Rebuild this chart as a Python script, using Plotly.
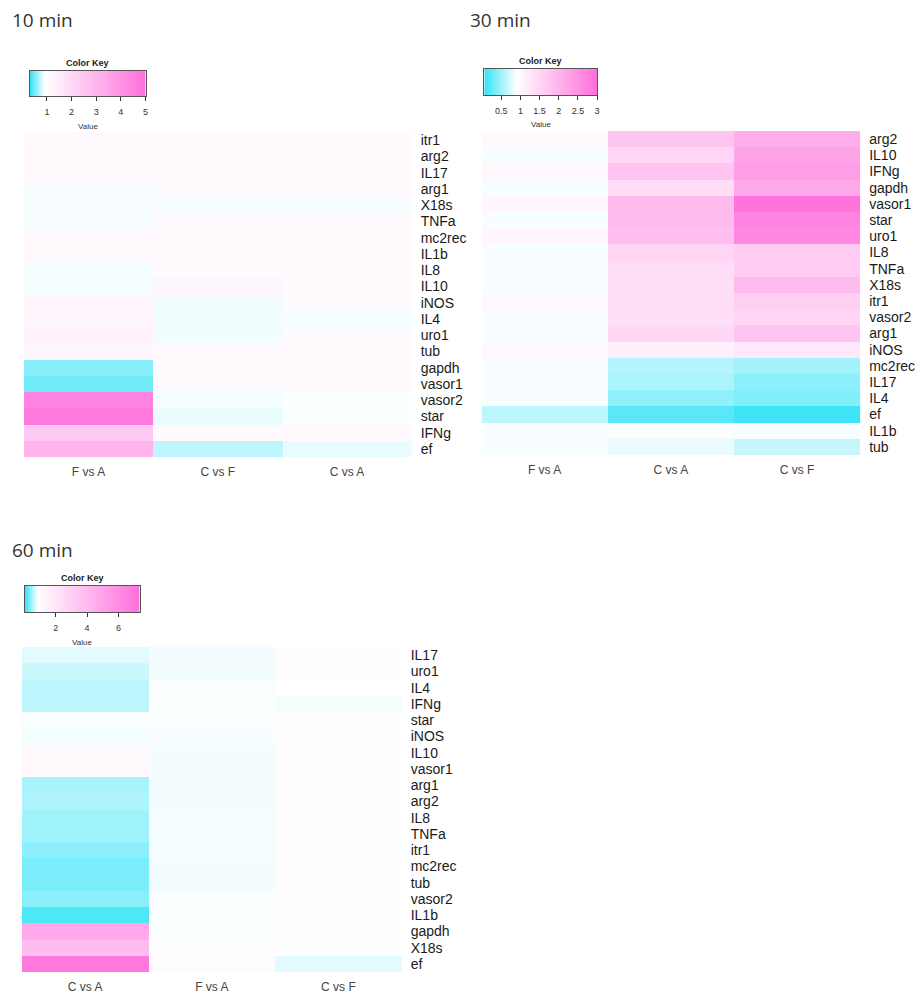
import numpy as np
import plotly.graph_objects as go

W, H = 921, 994

# ---------------- 10 min ----------------
genes_10 = ["itr1", "arg2", "IL17", "arg1", "X18s", "TNFa", "mc2rec", "IL1b", "IL8", "IL10",
            "iNOS", "IL4", "uro1", "tub", "gapdh", "vasor1", "vasor2", "star", "IFNg", "ef"]
cols_10 = ["F vs A", "C vs F", "C vs A"]
fva_10 = [1.10, 1.10, 1.10, 0.90, 0.90, 0.90, 1.10, 1.10, 0.89, 0.89,
          1.15, 1.15, 1.35, 1.20, 0.56, 0.50, 4.50, 4.75, 2.47, 3.05]
cvf_10 = [1.05, 1.05, 1.05, 1.05, 0.90, 1.05, 1.05, 1.05, 1.07, 1.20,
          0.88, 0.88, 0.88, 1.07, 1.07, 1.07, 0.89, 0.86, 1.05, 0.73]
cva_10 = [1.05, 1.05, 1.05, 1.05, 0.90, 1.05, 1.05, 1.05, 1.05, 1.13,
          1.05, 0.89, 1.05, 1.05, 1.05, 1.05, 0.91, 0.91, 1.05, 0.85]
key_10 = dict(zmin=0.31, zmax=5.0, white=0.92, ticks=[1, 2, 3, 4, 5])

# ---------------- 30 min ----------------
genes_30 = ["arg2", "IL10", "IFNg", "gapdh", "vasor1", "star", "uro1", "IL8", "TNFa", "X18s",
            "itr1", "vasor2", "arg1", "iNOS", "mc2rec", "IL17", "IL4", "ef", "IL1b", "tub"]
cols_30 = ["F vs A", "C vs A", "C vs F"]
fva_30 = [1.00, 0.87, 1.00, 0.87, 1.02, 0.87, 1.02, 0.87, 0.87, 0.87,
          1.00, 0.87, 0.87, 1.00, 0.87, 0.87, 0.87, 0.63, 0.87, 0.87]
cva_30 = [1.74, 1.53, 1.76, 1.40, 1.91, 1.91, 1.84, 1.53, 1.40, 1.37,
          1.36, 1.36, 1.47, 1.15, 0.59, 0.56, 0.45, 0.22, 0.88, 0.82]
cvf_30 = [2.10, 2.22, 2.32, 2.16, 2.94, 2.70, 2.64, 1.66, 1.64, 1.91,
          1.60, 1.53, 1.76, 1.24, 0.52, 0.43, 0.38, 0.11, 0.87, 0.67]
key_30 = dict(zmin=0.06, zmax=3.0, white=0.90, ticks=[0.5, 1, 1.5, 2, 2.5, 3])

# ---------------- 60 min ----------------
genes_60 = ["IL17", "uro1", "IL4", "IFNg", "star", "iNOS", "IL10", "vasor1", "arg1", "arg2",
            "IL8", "TNFa", "itr1", "mc2rec", "tub", "vasor2", "IL1b", "gapdh", "X18s", "ef"]
cols_60 = ["C vs A", "F vs A", "C vs F"]
cva_60 = [0.73, 0.64, 0.58, 0.58, 0.83, 0.81, 1.17, 1.17, 0.50, 0.53,
          0.47, 0.47, 0.39, 0.31, 0.32, 0.38, 0.14, 4.75, 3.84, 6.96]
fva_60 = [0.80, 0.80, 0.83, 0.83, 0.83, 0.82, 0.80, 0.80, 0.80, 0.80,
          0.81, 0.81, 0.81, 0.80, 0.80, 0.83, 0.83, 0.83, 1.00, 1.00]
cvf_60 = [1.00, 1.00, 0.85, 0.81, 0.84, 1.00, 1.00, 1.00, 1.00, 1.00,
          1.00, 1.00, 1.00, 1.00, 1.00, 1.00, 1.00, 1.00, 0.84, 0.73]
key_60 = dict(zmin=0.03, zmax=7.35, white=0.85, ticks=[2, 4, 6])

CYAN, WHITE, MAGENTA = "#33e3f7", "#ffffff", "#ff6fdc"
LABEL_FONT = "Liberation Sans, Arial, sans-serif"


def colorscale(k):
    w = (k["white"] - k["zmin"]) / (k["zmax"] - k["zmin"])
    return [[0, CYAN], [w, WHITE], [1, MAGENTA]]


def dom_x(a, b):
    return [a / W, b / W]


def dom_y(top, bottom):
    return [1 - bottom / H, 1 - top / H]


fig = go.Figure()

panels = [
    # (genes, columns, column arrays, key, heat box px, key box px, title, title pos)
    (genes_10, cols_10, [fva_10, cvf_10, cva_10], key_10,
     (24, 413, 132, 457), (30, 146, 71, 96), "10 min", (10, 20)),
    (genes_30, cols_30, [fva_30, cva_30, cvf_30], key_30,
     (483, 863, 131, 455), (486, 599, 69, 95), "30 min", (470, 20)),
    (genes_60, cols_60, [cva_60, fva_60, cvf_60], key_60,
     (22, 403, 647, 972), (25, 140, 586, 612), "60 min", (10, 550)),
]

layout = {}
annotations = []
for i, (genes, cols, arrs, key, hb, kb, title, tpos) in enumerate(panels):
    hx = "x" if i == 0 else f"x{i + 1}"
    hy = "y" if i == 0 else f"y{i + 1}"
    kx, ky = f"x{i + 4}", f"y{i + 4}"
    cs = colorscale(key)

    z = np.array(arrs).T
    fig.add_trace(go.Heatmap(
        z=z, x=cols, y=genes, colorscale=cs, zmin=key["zmin"], zmax=key["zmax"],
        showscale=False, xaxis=hx, yaxis=hy, hoverongaps=False,
    ))

    layout["xaxis" if i == 0 else f"xaxis{i + 1}"] = dict(
        domain=dom_x(hb[0], hb[1]), anchor=hy, type="category", showgrid=False,
        zeroline=False, ticks="", ticklabelstandoff=6,
        tickmode="array", tickvals=cols, ticktext=cols,
        tickfont=dict(family=LABEL_FONT, size=12, color="#444444"),
    )
    layout["yaxis" if i == 0 else f"yaxis{i + 1}"] = dict(
        domain=dom_y(hb[2], hb[3]), anchor=hx, type="category", autorange="reversed",
        side="right", showgrid=False, zeroline=False, ticks="", ticklabelstandoff=8,
        tickmode="array", tickvals=genes, ticktext=genes,
        tickfont=dict(family=LABEL_FONT, size=14, color="#1a1a1a"),
    )

    # colour key strip
    grid = np.linspace(key["zmin"], key["zmax"], 240)
    fig.add_trace(go.Heatmap(
        z=[grid], x=grid, y=[0], colorscale=cs, zmin=key["zmin"], zmax=key["zmax"],
        showscale=False, xaxis=kx, yaxis=ky, hoverinfo="skip",
    ))
    layout[f"xaxis{i + 4}"] = dict(
        domain=dom_x(kb[0], kb[1]), anchor=ky, range=[key["zmin"], key["zmax"]],
        tickvals=key["ticks"], ticktext=[f"{t:g}" for t in key["ticks"]],
        ticks="outside", ticklen=4, tickcolor="#333333", tickwidth=1,
        showline=True, linecolor="#555555", linewidth=1, mirror=True,
        showgrid=False, zeroline=False, ticklabelstandoff=3,
        tickfont=dict(family=LABEL_FONT, size=9, color="#333333"),
    )
    layout[f"yaxis{i + 4}"] = dict(
        domain=dom_y(kb[2], kb[3]), anchor=kx, range=[-0.5, 0.5],
        showticklabels=False, ticks="", showline=True, linecolor="#555555",
        linewidth=1, mirror=True, showgrid=False, zeroline=False,
    )

    cx = (kb[0] + kb[1]) / 2
    annotations.append(dict(
        text="<b>Color Key</b>", x=cx / W, y=1 - (kb[2] - 8) / H, xref="paper", yref="paper",
        xanchor="center", yanchor="middle", showarrow=False,
        font=dict(family=LABEL_FONT, size=9, color="#222222"),
    ))
    annotations.append(dict(
        text="Value", x=cx / W, y=1 - (kb[3] + 30) / H, xref="paper", yref="paper",
        xanchor="center", yanchor="middle", showarrow=False,
        font=dict(family=LABEL_FONT, size=8, color="#333333"),
    ))
    annotations.append(dict(
        text=title, x=tpos[0] / W, y=1 - tpos[1] / H, xref="paper", yref="paper",
        xanchor="left", yanchor="middle", showarrow=False,
        font=dict(family="Open Sans, sans-serif", size=19, color="#333333"),
    ))

fig.update_layout(
    width=W, height=H, margin=dict(l=0, r=0, t=0, b=0),
    paper_bgcolor="white", plot_bgcolor="white", showlegend=False,
    annotations=annotations, **layout,
)

fig.write_html("out.html")
